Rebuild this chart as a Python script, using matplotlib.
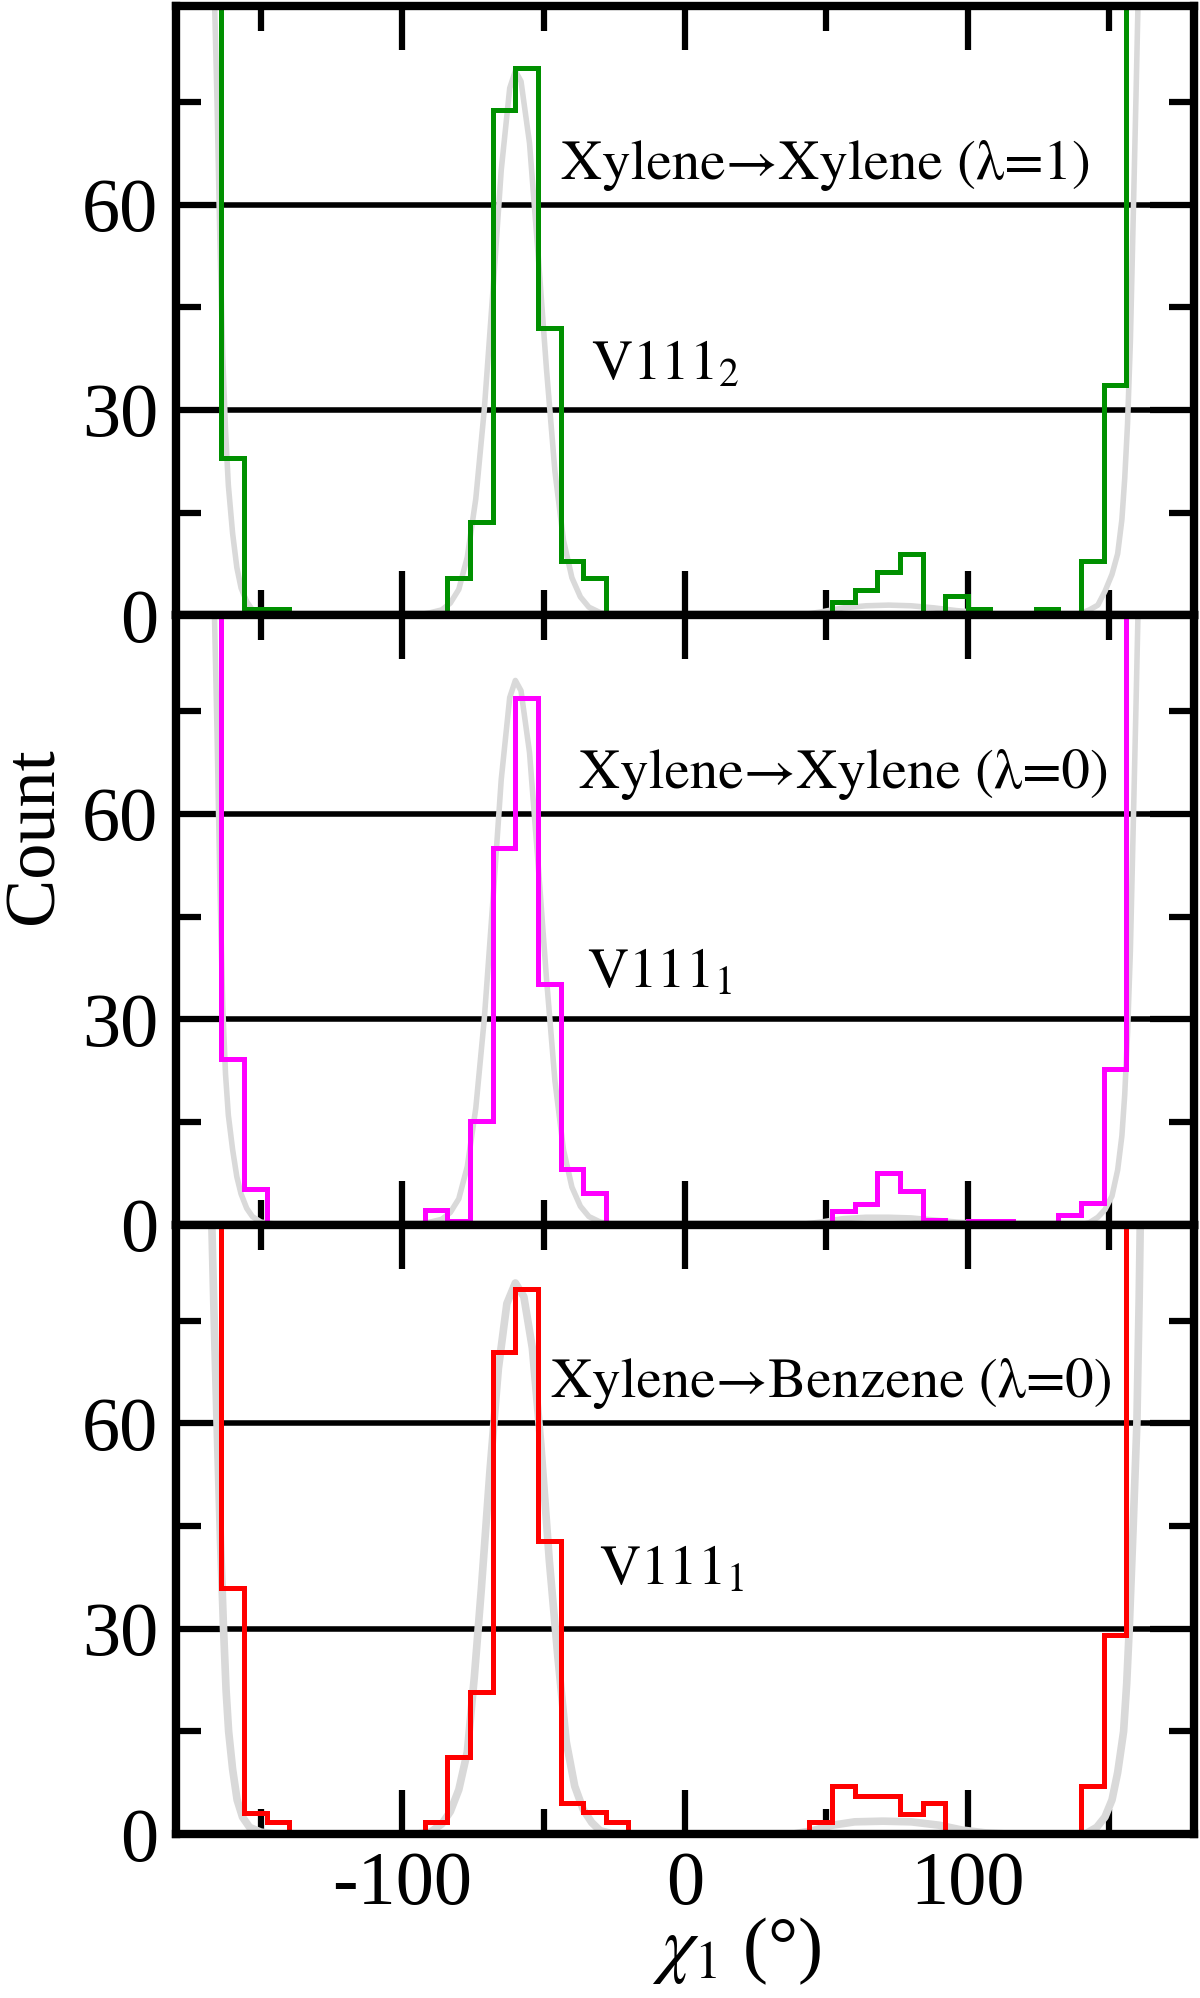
import numpy as np
import matplotlib
matplotlib.use("Agg")
import matplotlib.pyplot as plt
from matplotlib.ticker import MultipleLocator

plt.rcParams['font.family'] = ['Liberation Serif', 'STIXGeneral', 'DejaVu Serif']
plt.rcParams['mathtext.fontset'] = 'stix'
plt.rcParams['axes.unicode_minus'] = False

# chi1 histogram bins, 8 degrees wide
bin_edges = np.arange(-180, 181, 8)
OFF = 140  # bins that run off the top of the panel

# counts (45 bins from -180 to 180)
counts_l1 = [OFF, OFF, 23, 1, 1, 0, 0, 0, 0, 0, 0, 0, 5.4, 13.7, 73.8, 80, 42, 8, 5.4, 0,
             0, 0, 0, 0, 0, 0, 0, 0, 0, 2, 3.7, 6.3, 8.9, 0.3, 2.8, 1, 0, 0, 1, 0,
             8, 33.6, OFF, OFF, OFF]
counts_l0 = [OFF, OFF, 24.2, 5.2, 0, 0, 0, 0, 0, 0, 0, 2.2, 0.5, 15.2, 55, 76.9, 35.2, 8.2, 4.7, 0,
             0, 0, 0, 0, 0, 0, 0, 0, 0, 2, 3, 7.6, 5, 0.7, 0, 0.6, 0.6, 0, 0, 1.5,
             3.2, 22.7, OFF, OFF, OFF]
counts_benz = [OFF, OFF, 36, 3.1, 1.8, 0, 0, 0, 0, 0, 0, 1.8, 11.3, 20.8, 70.4, 79.6, 42.8, 4.5, 3.3, 1.8,
               0, 0, 0, 0, 0, 0, 0, 0, 1.8, 7.1, 5.6, 5.6, 3, 4.5, 0, 0, 0, 0, 0, 0,
               7.1, 29.1, OFF, OFF, OFF]

# reference distribution (grey curves)
ref_x_l1 = [-167, -165.5, -164.5, -163.5, -162.5, -161.5, -160, -158.5, -157, -155, -153, -150, -145, -140,
            -95, -90, -86, -83, -80, -77, -74, -71, -68, -65, -62, -60, -58, -55, -52, -49, -46, -43,
            -40, -37, -34, -30, -26, -20, 40, 48, 56, 64, 72, 80, 88, 96, 104, 112, 120, 136, 140, 143,
            146, 148.5, 151, 153, 154.5, 155.5, 156.5, 157.5, 158.5, 159.5, 160.5, 161.5]
ref_y_l1 = [100, 75, 55, 38, 27, 19, 12, 7, 4, 2, 0.8, 0.3, 0.1, 0,
            0, 0.4, 0.8, 1.8, 3.8, 8.5, 17, 30, 47, 65, 77, 79.5, 78, 69, 53, 36, 21, 11,
            5.5, 2.7, 1.2, 0.4, 0.1, 0, 0, 0.5, 1.1, 1.4, 1.5, 1.4, 1.1, 0.7, 0.4, 0.1, 0, 0, 0.3, 0.8,
            1.5, 3.5, 6, 9, 14, 20, 28, 40, 58, 76, 95, 120]

ref_x_l0 = [-167, -165.5, -164.5, -163.5, -162.5, -161.5, -160, -158.5, -157, -155, -153, -150, -145, -140,
            -95, -90, -86, -83, -80, -77, -74, -71, -68, -65, -62, -60, -58, -55, -52, -49, -46, -43,
            -40, -37, -34, -30, -26, -20, 40, 48, 56, 64, 72, 80, 88, 96, 104, 112, 120, 140, 143,
            146, 148.5, 151, 153, 154.5, 155.5, 156.5, 157.5, 158.5, 159.5, 160.5, 161.5]
ref_y_l0 = [100, 72, 50, 32, 22, 16, 11, 7, 4.5, 2.4, 1.2, 0.4, 0.1, 0,
            0, 0.4, 0.8, 1.8, 3.8, 8.5, 17, 30, 47, 65, 77, 79.5, 78, 69, 53, 36, 21, 11,
            5.5, 2.7, 1.2, 0.4, 0.1, 0, 0, 0.4, 0.9, 1.1, 1.1, 1.0, 0.7, 0.4, 0.2, 0.05, 0, 0, 0.3,
            1.1, 2.2, 4.2, 8, 13, 19, 28, 40, 58, 76, 95, 120]

ref_x_benz = [-168, -166.5, -165.5, -164.3, -163.2, -162.3, -161.4, -160, -158.4, -156.5, -154, -150, -145, -140,
              -95, -90, -86, -83, -80, -77, -74.5, -72, -69, -66, -63, -60, -57, -54, -51, -48, -45, -42,
              -39, -36, -33, -30, -26, -20, 38, 45, 52, 60, 70, 80, 90, 98, 106, 115, 141.5, 143.5, 145.6,
              148.5, 151, 153, 155.1, 156.2, 157.1, 158.5, 159.8, 160.6, 161.2, 162]
ref_y_benz = [100, 75, 60, 43, 30, 21, 15, 9.5, 5, 2.5, 1, 0.3, 0.05, 0,
              0, 0.3, 1.5, 3.3, 6.5, 12, 23, 36, 53, 68, 77.5, 80.5, 78.5, 71, 57, 40, 26, 13.5,
              7, 3.6, 1.7, 0.5, 0.1, 0, 0, 0.5, 1.3, 1.8, 1.9, 1.8, 1.3, 0.6, 0.2, 0, 0, 0.5, 1,
              2.5, 5, 9, 15, 22, 30, 45, 60, 78, 95, 120]

panels = [
    (counts_l1, ref_x_l1, ref_y_l1, '#009000', 'Xylene\u2192Xylene (λ=1)', r'V111$_2$',
     (-44, 63.8), (-33.3, 34.4), 4),
    (counts_l0, ref_x_l0, ref_y_l0, '#ff00ff', 'Xylene\u2192Xylene (λ=0)', r'V111$_1$',
     (-37.6, 63.8), (-34.5, 34.7), 4),
    (counts_benz, ref_x_benz, ref_y_benz, '#ff0000', 'Xylene\u2192Benzene (λ=0)', r'V111$_1$',
     (-47.4, 63.9), (-30.3, 36.5), 5.5),
]

fig = plt.figure(figsize=(12, 19.98), dpi=100)
gs = fig.add_gridspec(3, 1, left=0.1467, right=0.995, top=0.997, bottom=0.082, hspace=0)

axes = []
for i, (counts, rx, ry, color, title, res, tpos, rpos, ref_lw) in enumerate(panels):
    ax = fig.add_subplot(gs[i])
    axes.append(ax)
    ax.plot(rx, ry, color='#d9d9d9', lw=ref_lw, zorder=1.5, solid_capstyle='round')
    ax.stairs(counts, bin_edges, baseline=0, color=color, lw=3.6, zorder=2)

    ax.set_xlim(-180, 180)
    ax.set_ylim(0, 89)
    ax.xaxis.set_major_locator(MultipleLocator(100))
    ax.xaxis.set_minor_locator(MultipleLocator(50))
    ax.yaxis.set_major_locator(MultipleLocator(30))
    ax.yaxis.set_minor_locator(MultipleLocator(15))

    ax.yaxis.grid(True, color='black', lw=4)
    ax.set_axisbelow(True)
    for sp in ax.spines.values():
        sp.set_linewidth(6)
        sp.set_zorder(3)

    ax.tick_params(axis='both', which='both', direction='in', top=True, right=True,
                   width=4.5, labelsize=55)
    ax.tick_params(which='major', length=32)
    ax.tick_params(which='minor', length=18)
    ax.tick_params(axis='y', pad=13)
    ax.tick_params(axis='x', pad=12)
    if i < 2:
        ax.tick_params(labelbottom=False)

    ax.text(tpos[0], tpos[1], title, fontsize=41, ha='left', va='baseline',
            family=['STIXGeneral', 'DejaVu Serif'])
    ax.text(rpos[0], rpos[1], res, fontsize=41, ha='left', va='baseline',
            family=['STIXGeneral', 'DejaVu Serif'])

axes[-1].set_xlabel(r'$\chi_1$ (°)', fontsize=54)
axes[-1].xaxis.set_label_coords(0.551, -0.133)
fig.text(0.029, 0.582, 'Count', rotation=90, ha='center', va='center', fontsize=52)

fig.savefig('out.png', dpi=100)
